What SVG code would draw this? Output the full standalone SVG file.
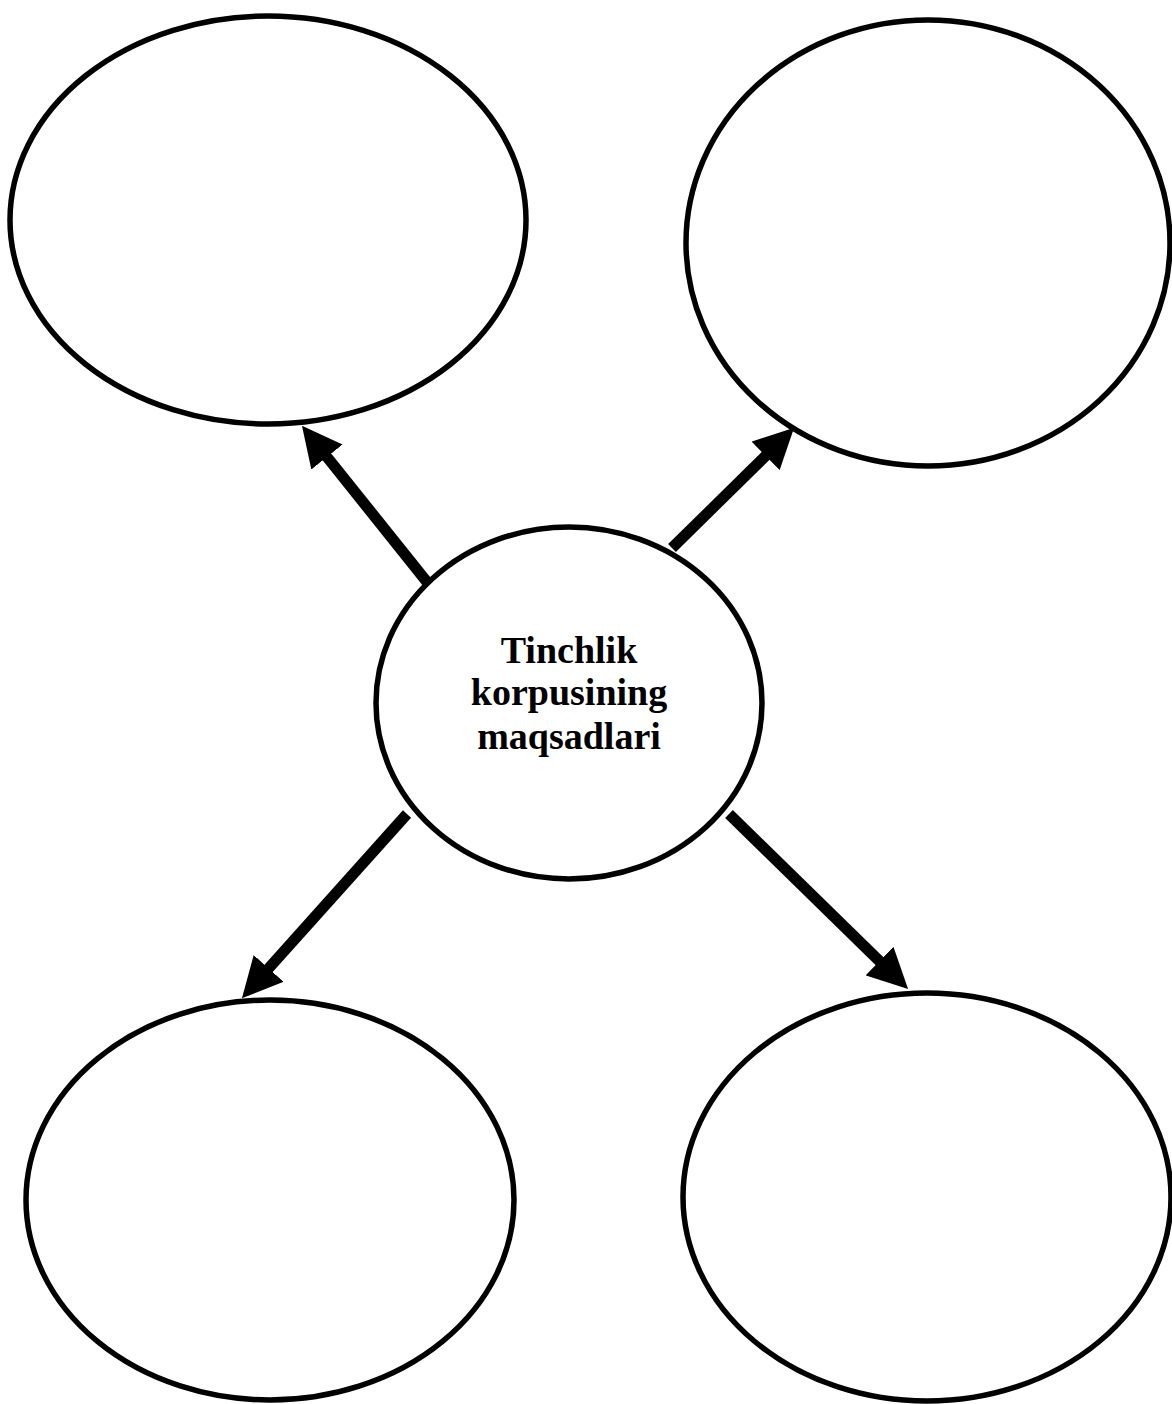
<svg xmlns="http://www.w3.org/2000/svg" width="1172" height="1404" viewBox="0 0 1172 1404">
<style>
.node{fill:#fff;stroke:#000;stroke-width:5.5}
.conn{stroke:#000;stroke-width:11;fill:none}
.lbl{font-family:"Liberation Serif","Times New Roman",serif;font-weight:bold;font-size:38px;fill:#000;text-anchor:middle}
</style>
<defs>
<marker id="ah" markerUnits="userSpaceOnUse" markerWidth="40" markerHeight="40" viewBox="0 0 38 38" refX="8" refY="19" orient="auto">
<path d="M0,0 L38,19 L0,38 z" fill="#000"/>
</marker>
</defs>
<rect width="1172" height="1404" fill="#fff"/>
<g id="node-top-left"><ellipse class="node" cx="268" cy="220" rx="258" ry="204"/></g>
<g id="node-top-right"><ellipse class="node" cx="928" cy="243" rx="242" ry="223"/></g>
<g id="node-bottom-left"><ellipse class="node" cx="270" cy="1200" rx="244" ry="200"/></g>
<g id="node-bottom-right"><ellipse class="node" cx="927" cy="1197" rx="244" ry="204"/></g>
<g id="node-center">
<ellipse class="node" cx="569" cy="703" rx="193" ry="176"/>
<text class="lbl" x="569" y="663">Tinchlik</text>
<text class="lbl" x="569" y="705">korpusining</text>
<text class="lbl" x="569" y="749">maqsadlari</text>
</g>
<g id="connectors">
<line class="conn" x1="427" y1="582" x2="321.7" y2="450.4" marker-end="url(#ah)"/>
<line class="conn" x1="672" y1="548" x2="771.6" y2="450" marker-end="url(#ah)"/>
<line class="conn" x1="407" y1="814" x2="263" y2="974.7" marker-end="url(#ah)"/>
<line class="conn" x1="729" y1="814" x2="885.5" y2="967" marker-end="url(#ah)"/>
</g>
</svg>
